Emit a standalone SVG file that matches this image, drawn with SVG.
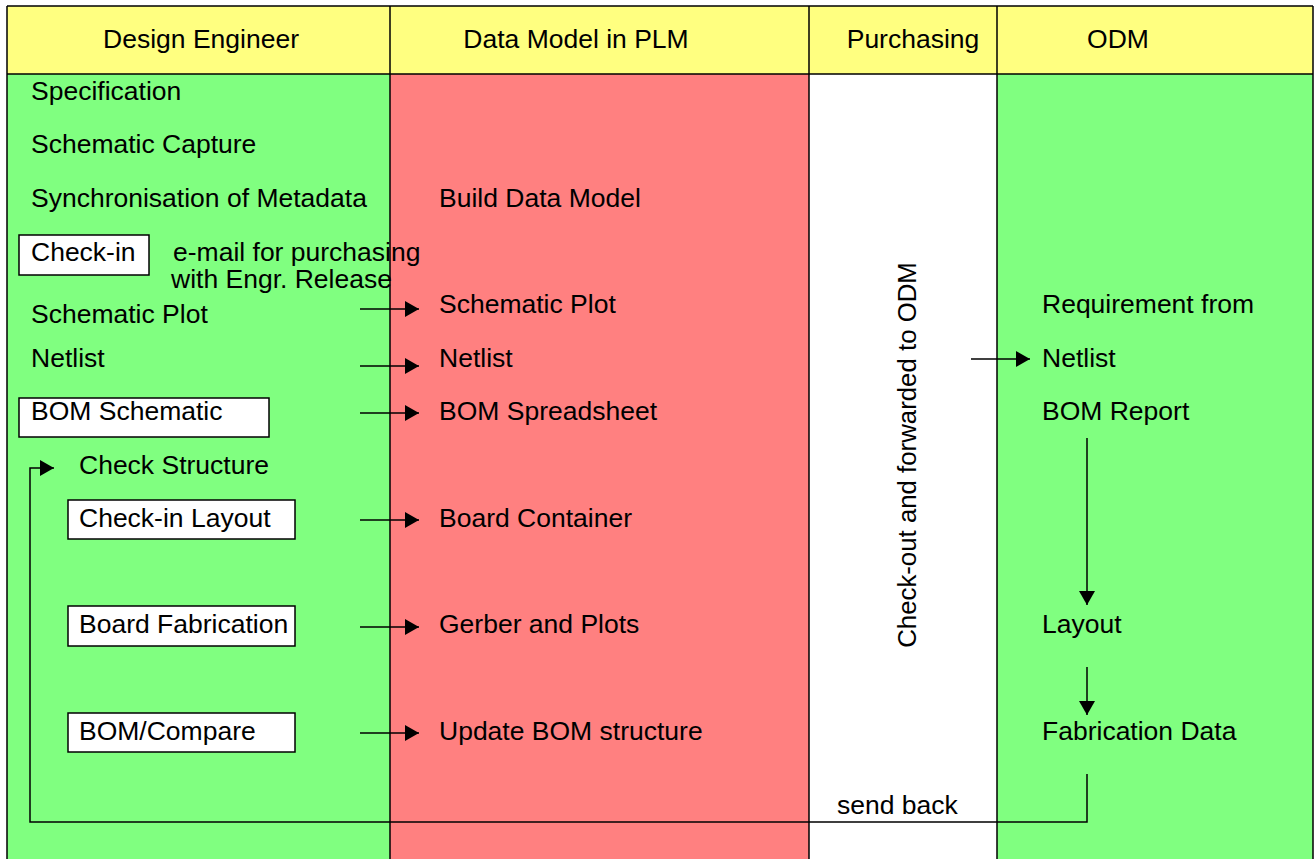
<svg xmlns="http://www.w3.org/2000/svg" width="1316" height="859" viewBox="0 0 1316 859">
<style>
text{font-family:"Liberation Sans",Arial,sans-serif;font-size:26.5px;fill:#000}
.hd{text-anchor:middle}
.vt{font-size:25.8px}
.ln{stroke:#000;stroke-width:1.5;fill:none}
.box{fill:#fff;stroke:#000;stroke-width:1.5}
</style>
<defs>
<marker id="ah" markerUnits="userSpaceOnUse" markerWidth="15" markerHeight="17" refX="14" refY="8" orient="auto">
<path d="M0,0 L14,8 L0,16 Z" fill="#000"/>
</marker>
</defs>
<g id="lanes">
<rect x="7" y="74" width="383" height="785" fill="#80FF80"/>
<rect x="390" y="74" width="419" height="785" fill="#FF8080"/>
<rect x="809" y="74" width="188" height="785" fill="#FFFFFF"/>
<rect x="997" y="74" width="316" height="785" fill="#80FF80"/>
<rect x="7" y="6" width="1306" height="68" fill="#FFFF80"/>
<path class="ln" d="M7,6 H1313 M7,74 H1313 M7,6 V859 M390,6 V859 M809,6 V859 M997,6 V859 M1313,6 V859"/>
<text class="hd" x="201" y="48">Design Engineer</text>
<text class="hd" x="576" y="48">Data Model in PLM</text>
<text class="hd" x="913" y="48">Purchasing</text>
<text class="hd" x="1118" y="48">ODM</text>
</g>
<g id="design">
<text x="31" y="100">Specification</text>
<text x="31" y="153">Schematic Capture</text>
<text x="31" y="207">Synchronisation of Metadata</text>
<g id="checkin"><rect class="box" x="19" y="235" width="130" height="40"/><text x="31" y="261">Check-in</text></g>
<text x="173" y="261">e-mail for purchasing</text>
<text x="171" y="288">with Engr. Release</text>
<text x="31" y="323">Schematic Plot</text>
<text x="31" y="367">Netlist</text>
<g id="bomsch"><rect class="box" x="19" y="398" width="250" height="39"/><text x="31" y="420">BOM Schematic</text></g>
<text x="79" y="474">Check Structure</text>
<g id="checkinlayout"><rect class="box" x="68" y="500" width="227" height="39"/><text x="79" y="527">Check-in Layout</text></g>
<g id="boardfab"><rect class="box" x="68" y="606" width="227" height="40"/><text x="79" y="633">Board Fabrication</text></g>
<g id="bomcompare"><rect class="box" x="68" y="713" width="227" height="39"/><text x="79" y="740">BOM/Compare</text></g>
</g>
<g id="plm">
<text x="439" y="207">Build Data Model</text>
<text x="439" y="313">Schematic Plot</text>
<text x="439" y="367">Netlist</text>
<text x="439" y="420">BOM Spreadsheet</text>
<text x="439" y="527">Board Container</text>
<text x="439" y="633">Gerber and Plots</text>
<text x="439" y="740">Update BOM structure</text>
</g>
<g id="purchasing">
<text class="hd vt" transform="translate(916,455) rotate(-90)">Check-out and forwarded to ODM</text>
<text x="837" y="814">send back</text>
</g>
<g id="odm">
<text x="1042" y="313">Requirement from</text>
<text x="1042" y="367">Netlist</text>
<text x="1042" y="420">BOM Report</text>
<text x="1042" y="633">Layout</text>
<text x="1042" y="740">Fabrication Data</text>
</g>
<g id="connectors">
<path class="ln" marker-end="url(#ah)" d="M360,309 H419"/>
<path class="ln" marker-end="url(#ah)" d="M360,366 H419"/>
<path class="ln" marker-end="url(#ah)" d="M360,413 H419"/>
<path class="ln" marker-end="url(#ah)" d="M360,520 H419"/>
<path class="ln" marker-end="url(#ah)" d="M360,627 H419"/>
<path class="ln" marker-end="url(#ah)" d="M360,733 H419"/>
<path class="ln" marker-end="url(#ah)" d="M971,359 H1030"/>
<path class="ln" marker-end="url(#ah)" d="M1087,438 V605"/>
<path class="ln" marker-end="url(#ah)" d="M1087,667 V715"/>
<path class="ln" marker-end="url(#ah)" d="M1087,774 V822 H30 V468 H54"/>
</g>
</svg>
